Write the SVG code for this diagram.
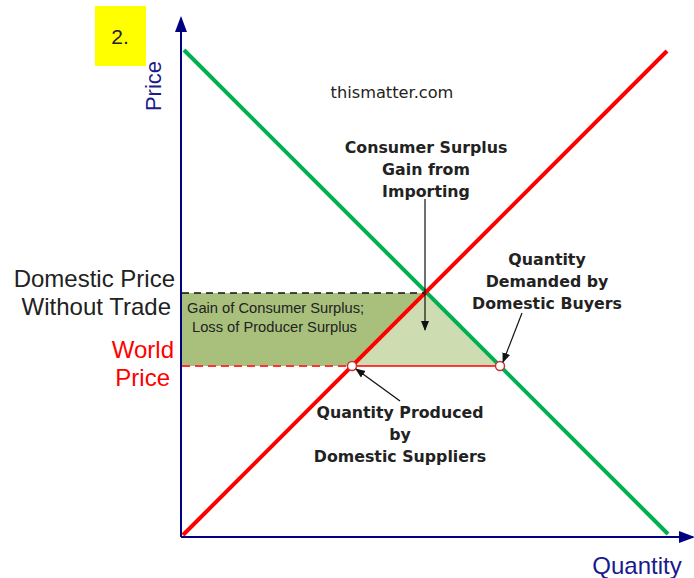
<svg xmlns="http://www.w3.org/2000/svg" width="694" height="578" viewBox="0 0 694 578">
<style>
.axis{stroke:#000080;stroke-width:2;fill:none}
.lbl{font-family:"Liberation Sans",Arial,sans-serif;fill:#222}
.b{font-family:"DejaVu Sans",Verdana,sans-serif;font-weight:bold;font-size:15.8px;text-anchor:middle;fill:#222}
.ptr{stroke:#111;stroke-width:1.2;fill:none}
</style>
<defs>
<marker id="ah" markerWidth="10" markerHeight="10" refX="9" refY="5" orient="auto" markerUnits="userSpaceOnUse"><path d="M0,1 L10,5 L0,9 Z" fill="#111"/></marker>
<marker id="axh" markerWidth="16" markerHeight="16" refX="14" refY="8" orient="auto" markerUnits="userSpaceOnUse"><path d="M0,2 L16,8 L0,14 Z" fill="#000080"/></marker>
</defs>
<rect width="694" height="578" fill="#fff"/>
<g id="label-box"><rect x="95" y="6" width="51" height="60" fill="#ffff00"/><text x="120" y="44" class="lbl" font-size="21" text-anchor="middle" fill="#222">2.</text></g>
<g id="areas">
<polygon points="181,293 426,293 352,366 181,366" fill="#a8c07c"/>
<polygon points="426,293 352,366 500,366" fill="#cddcb1"/>
</g>
<g id="axes">
<line x1="181" y1="537" x2="181" y2="18" class="axis" marker-end="url(#axh)"/>
<line x1="181" y1="537" x2="693" y2="537" class="axis" marker-end="url(#axh)"/>
</g>
<g id="curves">
<line x1="184" y1="50" x2="668" y2="534" stroke="#00b050" stroke-width="4"/>
<line x1="183" y1="535" x2="667" y2="51" stroke="#ff0000" stroke-width="4"/>
<line x1="182" y1="293" x2="424" y2="293" stroke="#111" stroke-width="1.5" stroke-dasharray="7,5"/>
<line x1="182" y1="366" x2="350" y2="366" stroke="#ff3333" stroke-width="2" stroke-dasharray="8,5"/>
<line x1="352" y1="366" x2="500" y2="366" stroke="#ff0000" stroke-width="1.5"/>
<circle cx="352" cy="366" r="4.5" fill="#fff" stroke="#cc3333" stroke-width="1.5"/>
<circle cx="500" cy="366" r="4.5" fill="#fff" stroke="#cc3333" stroke-width="1.5"/>
</g>
<g id="connectors">
<line x1="425" y1="199" x2="425" y2="330" class="ptr" marker-end="url(#ah)"/>
<line x1="522" y1="313" x2="503" y2="362" class="ptr" marker-end="url(#ah)"/>
<line x1="400" y1="401" x2="356" y2="369" class="ptr" marker-end="url(#ah)"/>
</g>
<g id="texts">
<text x="161" y="86" transform="rotate(-90 161 86)" text-anchor="middle" font-family="Liberation Sans,Arial,sans-serif" font-size="22" fill="#1a1a8c">Price</text>
<text x="637" y="574" text-anchor="middle" font-family="Liberation Sans,Arial,sans-serif" font-size="24" fill="#1a1a8c">Quantity</text>
<text x="392" y="98" text-anchor="middle" font-family="DejaVu Sans,Verdana,sans-serif" font-size="16.2" fill="#222">thismatter.com</text>
<text class="b"><tspan x="426" y="153">Consumer Surplus</tspan><tspan x="426" y="175">Gain from</tspan><tspan x="426" y="197">Importing</tspan></text>
<text class="b"><tspan x="547" y="265">Quantity</tspan><tspan x="547" y="287">Demanded by</tspan><tspan x="547" y="309">Domestic Buyers</tspan></text>
<text class="b"><tspan x="400" y="418">Quantity Produced</tspan><tspan x="400" y="440">by</tspan><tspan x="400" y="462">Domestic Suppliers</tspan></text>
<text class="lbl" font-size="24" text-anchor="end"><tspan x="175" y="287">Domestic Price</tspan><tspan x="171" y="315">Without Trade</tspan></text>
<text font-family="Liberation Sans,Arial,sans-serif" font-size="24" text-anchor="end" fill="#ff0000"><tspan x="174" y="358">World</tspan><tspan x="170" y="386">Price</tspan></text>
<text class="lbl" font-size="14.7" fill="#333"><tspan x="187" y="313">Gain of Consumer Surplus;</tspan><tspan x="192" y="332">Loss of Producer Surplus</tspan></text>
</g>
</svg>
